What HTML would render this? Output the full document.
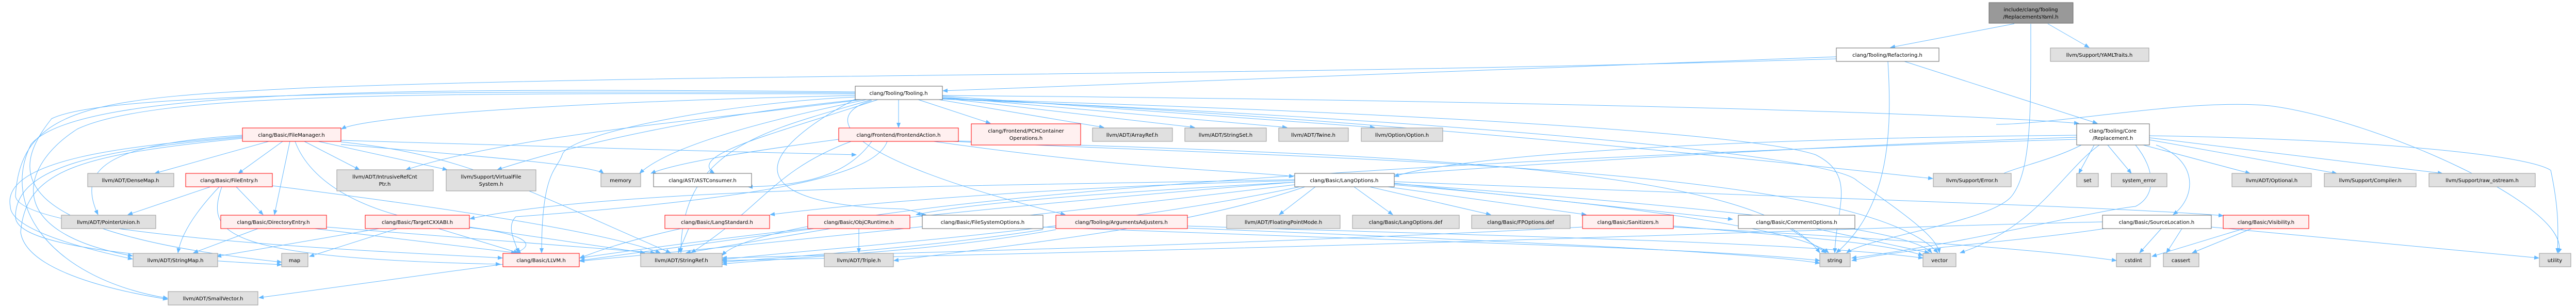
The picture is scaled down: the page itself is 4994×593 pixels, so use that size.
<!DOCTYPE html>
<html><head><meta charset="utf-8"><style>
html,body{margin:0;padding:0;background:#fff;}
svg{display:block;}
text{font-family:"DejaVu Sans","Liberation Sans",sans-serif;font-size:10px;fill:#000;text-anchor:middle;}
.e{fill:none;stroke:#63b8ff;stroke-width:1;marker-end:url(#a);}
.g{fill:#e0e0e0;stroke:#999;}
.w{fill:#fff;stroke:#666;}
.r{fill:#fff0f0;stroke:#f00;}
.m{fill:#999;stroke:#666;}
</style></head><body>
<svg width="4994" height="593" viewBox="0 0 4994 593" xmlns="http://www.w3.org/2000/svg">
<defs><marker id="a" markerWidth="10" markerHeight="8" refX="9" refY="4" orient="auto" markerUnits="userSpaceOnUse"><path d="M0,0 L10,4 L0,8 z" fill="#63b8ff"/></marker></defs>
<g>
<path class="e" d="M3905 46 L3665 92"/>
<path class="e" d="M3970 46 L4050 92"/>
<path class="e" d="M3937 46 C3937 200 3940 330 3900 380 C3860 430 3620 460 3580 490"/>
<path class="e" d="M3660 119 C3668 250 3665 400 3560 490"/>
<path class="e" d="M3692 119 L4066 239"/>
<path class="e" d="M3560 110 L1828 176"/>
<path class="e" d="M3560 114 C2400 150 1400 140 600 170 C200 190 40 200 30 380 C40 460 800 490 974 500"/>
<path class="e" d="M1742 193 L1742 247"/>
<path class="e" d="M1780 193 L1920 239"/>
<path class="e" d="M1820 193 L2140 247"/>
<path class="e" d="M1827 190 L2316 247"/>
<path class="e" d="M1827 188 L2495 247"/>
<path class="e" d="M1827 186 L2665 247"/>
<path class="e" d="M1827 185 C3000 195 3800 220 4030 239"/>
<path class="e" d="M1658 185 C1000 200 700 230 662 250"/>
<path class="e" d="M1658 188 C1400 200 1100 260 1090 300 C1080 330 1050 330 1050 490"/>
<path class="e" d="M1702 193 C1500 260 1330 300 1385 336"/>
<path class="e" d="M1680 193 C1500 230 1300 280 1240 336"/>
<path class="e" d="M1690 193 C1500 250 1320 280 1320 490"/>
<path class="e" d="M1670 193 C1400 230 1000 260 787 329"/>
<path class="e" d="M1665 193 C1300 230 1050 300 964 329"/>
<path class="e" d="M1690 195 C1600 220 1600 300 2065 416"/>
<path class="e" d="M1658 182 C800 180 300 180 150 250 C40 320 0 450 257 496"/>
<path class="e" d="M1658 180 C800 175 200 180 100 230 C20 330 0 450 546 508"/>
<path class="e" d="M1658 178 C800 170 150 170 60 280 C0 400 100 540 325 578"/>
<path class="e" d="M1827 191 C2800 220 3400 260 3520 300 C3600 340 3560 400 3557 490"/>
<path class="e" d="M1827 192 C2800 230 3550 300 3600 350 C3700 420 3755 460 3760 490"/>
<path class="e" d="M1827 190 C2700 230 3500 320 3747 346"/>
<path class="e" d="M3870 241 C4000 240 4250 190 4400 205 C4600 230 4990 400 4960 490"/>
<path class="e" d="M4026 262 C3200 270 2800 310 2703 342"/>
<path class="e" d="M4060 281 L4030 336"/>
<path class="e" d="M4086 281 L4132 336"/>
<path class="e" d="M4155 281 L4362 336"/>
<path class="e" d="M4167 271 L4530 336"/>
<path class="e" d="M4167 267 L4735 336"/>
<path class="e" d="M4167 263 C4600 270 4900 300 4945 330 C4960 400 4960 440 4958 490"/>
<path class="e" d="M4180 281 C4260 310 4260 380 4213 416"/>
<path class="e" d="M4140 281 C4180 330 4180 380 4140 400 C4050 410 3820 470 3590 500"/>
<path class="e" d="M4070 281 C4000 330 3950 440 3800 490"/>
<path class="e" d="M4035 281 C3960 320 3860 330 3850 362"/>
<path class="e" d="M4026 270 C3000 300 1500 380 1400 495"/>
<path class="e" d="M4026 266 C3000 300 1800 400 1124 500"/>
<path class="e" d="M521 274 L300 336"/>
<path class="e" d="M548 274 L462 336"/>
<path class="e" d="M562 274 L532 416"/>
<path class="e" d="M590 274 L697 329"/>
<path class="e" d="M617 274 L867 329"/>
<path class="e" d="M661 280 C900 300 1150 320 1170 336"/>
<path class="e" d="M470 262 C200 280 150 330 190 416"/>
<path class="e" d="M470 264 C300 280 0 300 20 400 C20 450 200 490 257 502"/>
<path class="e" d="M470 266 C200 290 30 320 30 420 C30 480 300 500 546 513"/>
<path class="e" d="M470 268 C150 300 50 330 40 450 C50 520 200 560 325 580"/>
<path class="e" d="M572 274 C600 350 700 420 900 440 C1000 450 1050 470 1000 490"/>
<path class="e" d="M661 275 C900 300 1000 360 1300 490"/>
<path class="e" d="M661 272 C1200 290 1300 290 1660 300"/>
<path class="e" d="M408 362 L248 416"/>
<path class="e" d="M458 362 L510 416"/>
<path class="e" d="M425 362 C370 420 350 460 345 490"/>
<path class="e" d="M430 362 C400 450 420 500 970 512"/>
<path class="e" d="M528 360 C1000 420 1200 460 1280 490"/>
<path class="e" d="M500 443 L375 490"/>
<path class="e" d="M610 443 L1000 490"/>
<path class="e" d="M633 440 L1270 490"/>
<path class="e" d="M735 443 L420 497"/>
<path class="e" d="M770 443 L600 497"/>
<path class="e" d="M850 443 L1005 490"/>
<path class="e" d="M910 440 L1250 490"/>
<path class="e" d="M975 512 L502 577"/>
<path class="e" d="M2550 362 L2480 416"/>
<path class="e" d="M2625 362 L2700 416"/>
<path class="e" d="M2655 362 L2890 416"/>
<path class="e" d="M2690 362 L3075 416"/>
<path class="e" d="M2703 355 L3359 425"/>
<path class="e" d="M2703 352 C3400 380 4100 400 4310 418"/>
<path class="e" d="M2510 350 C2100 360 1700 390 1493 416"/>
<path class="e" d="M2510 353 C2200 370 1900 390 1776 416"/>
<path class="e" d="M2510 348 C2000 360 1200 360 911 424"/>
<path class="e" d="M2703 358 C3200 400 3500 450 3545 490"/>
<path class="e" d="M2703 356 C3300 400 3700 440 3745 490"/>
<path class="e" d="M2530 362 C2300 440 2000 470 1733 505"/>
<path class="e" d="M2520 362 C2100 450 1600 480 1400 503"/>
<path class="e" d="M2510 358 C2000 420 1400 480 1124 506"/>
<path class="e" d="M1335 443 L1315 490"/>
<path class="e" d="M1320 443 C1200 470 1150 490 1124 500"/>
<path class="e" d="M1665 443 L1665 490"/>
<path class="e" d="M1610 443 L1330 490"/>
<path class="e" d="M1600 440 L1124 505"/>
<path class="e" d="M2022 440 C2800 470 3300 480 3528 505"/>
<path class="e" d="M2022 445 C1800 480 1500 500 1400 508"/>
<path class="e" d="M2302 438 C3000 460 3500 470 3728 500"/>
<path class="e" d="M2302 442 C3000 470 3400 490 3528 510"/>
<path class="e" d="M2047 445 C1800 490 1500 500 1400 512"/>
<path class="e" d="M3068 440 C2500 470 1800 490 1400 500"/>
<path class="e" d="M3244 438 C3500 460 3650 470 3728 495"/>
<path class="e" d="M3244 440 C3800 470 4000 490 4103 505"/>
<path class="e" d="M3470 443 L3540 490"/>
<path class="e" d="M3520 443 L3740 490"/>
<path class="e" d="M4230 443 L4200 490"/>
<path class="e" d="M4190 443 L4148 490"/>
<path class="e" d="M4287 440 L4922 500"/>
<path class="e" d="M4076 430 C3600 440 3000 470 1400 505"/>
<path class="e" d="M4080 443 C3900 470 3700 480 3590 505"/>
<path class="e" d="M4350 443 L4172 497"/>
<path class="e" d="M4365 443 L4250 490"/>
<path class="e" d="M1658 192 C1400 330 1500 400 1752 405 C1780 410 1790 416 1795 416"/>
<path class="e" d="M1690 274 C1650 330 1580 360 1450 362"/>
<path class="e" d="M1720 274 C1700 330 1550 380 1000 420 C980 440 1000 470 1005 490"/>
<path class="e" d="M1810 274 C2200 330 2400 330 2508 342"/>
<path class="e" d="M1826 272 C2600 300 3400 310 3528 490"/>
<path class="e" d="M1826 273 C2600 310 3600 320 3757 490"/>
<path class="e" d="M1626 270 C1400 300 1300 320 1262 336"/>
<path class="e" d="M1650 274 C1500 330 1480 400 1340 490"/>
</g>
<g>
<rect class="m" x="3856" y="5" width="163" height="40"/><text x="3937" y="22">include/clang/Tooling</text><text x="3937" y="36">/ReplacementsYaml.h</text>
<rect class="w" x="3560" y="93" width="199" height="26"/><text x="3659" y="110">clang/Tooling/Refactoring.h</text>
<rect class="g" x="3975" y="93" width="191" height="26"/><text x="4070" y="110">llvm/Support/YAMLTraits.h</text>
<rect class="w" x="1658" y="167" width="169" height="26"/><text x="1742" y="184">clang/Tooling/Tooling.h</text>
<rect class="w" x="4026" y="240" width="141" height="41"/><text x="4096" y="257">clang/Tooling/Core</text><text x="4096" y="271">/Replacement.h</text>
<rect class="r" x="470" y="248" width="191" height="26"/><text x="565" y="265">clang/Basic/FileManager.h</text>
<rect class="r" x="1626" y="248" width="232" height="26"/><text x="1742" y="265">clang/Frontend/FrontendAction.h</text>
<rect class="r" x="1883" y="240" width="212" height="41"/><text x="1989" y="257">clang/Frontend/PCHContainer</text><text x="1989" y="271">Operations.h</text>
<rect class="g" x="2118" y="248" width="155" height="26"/><text x="2195" y="265">llvm/ADT/ArrayRef.h</text>
<rect class="g" x="2297" y="248" width="158" height="26"/><text x="2376" y="265">llvm/ADT/StringSet.h</text>
<rect class="g" x="2479" y="248" width="135" height="26"/><text x="2546" y="265">llvm/ADT/Twine.h</text>
<rect class="g" x="2639" y="248" width="158" height="26"/><text x="2718" y="265">llvm/Option/Option.h</text>
<rect class="g" x="170" y="336" width="167" height="26"/><text x="253" y="353">llvm/ADT/DenseMap.h</text>
<rect class="r" x="360" y="336" width="168" height="26"/><text x="444" y="353">clang/Basic/FileEntry.h</text>
<rect class="g" x="653" y="329" width="187" height="41"/><text x="746" y="346">llvm/ADT/IntrusiveRefCnt</text><text x="746" y="360">Ptr.h</text>
<rect class="g" x="865" y="329" width="174" height="41"/><text x="952" y="346">llvm/Support/VirtualFile</text><text x="952" y="360">System.h</text>
<rect class="g" x="1165" y="336" width="77" height="26"/><text x="1203" y="353">memory</text>
<rect class="w" x="1267" y="336" width="190" height="26"/><text x="1362" y="353">clang/AST/ASTConsumer.h</text>
<rect class="w" x="2510" y="336" width="193" height="26"/><text x="2606" y="353">clang/Basic/LangOptions.h</text>
<rect class="g" x="3748" y="336" width="151" height="26"/><text x="3823" y="353">llvm/Support/Error.h</text>
<rect class="g" x="4026" y="336" width="42" height="26"/><text x="4047" y="353">set</text>
<rect class="g" x="4093" y="336" width="108" height="26"/><text x="4147" y="353">system_error</text>
<rect class="g" x="4327" y="336" width="154" height="26"/><text x="4404" y="353">llvm/ADT/Optional.h</text>
<rect class="g" x="4506" y="336" width="178" height="26"/><text x="4595" y="353">llvm/Support/Compiler.h</text>
<rect class="g" x="4709" y="336" width="206" height="26"/><text x="4812" y="353">llvm/Support/raw_ostream.h</text>
<rect class="g" x="119" y="417" width="183" height="26"/><text x="210" y="434">llvm/ADT/PointerUnion.h</text>
<rect class="r" x="428" y="417" width="205" height="26"/><text x="530" y="434">clang/Basic/DirectoryEntry.h</text>
<rect class="r" x="708" y="417" width="202" height="26"/><text x="809" y="434">clang/Basic/TargetCXXABI.h</text>
<rect class="r" x="1289" y="417" width="203" height="26"/><text x="1390" y="434">clang/Basic/LangStandard.h</text>
<rect class="r" x="1566" y="417" width="198" height="26"/><text x="1665" y="434">clang/Basic/ObjCRuntime.h</text>
<rect class="w" x="1788" y="417" width="234" height="26"/><text x="1905" y="434">clang/Basic/FileSystemOptions.h</text>
<rect class="r" x="2047" y="417" width="255" height="26"/><text x="2174" y="434">clang/Tooling/ArgumentsAdjusters.h</text>
<rect class="g" x="2378" y="417" width="220" height="26"/><text x="2488" y="434">llvm/ADT/FloatingPointMode.h</text>
<rect class="g" x="2622" y="417" width="207" height="26"/><text x="2725" y="434">clang/Basic/LangOptions.def</text>
<rect class="g" x="2853" y="417" width="191" height="26"/><text x="2948" y="434">clang/Basic/FPOptions.def</text>
<rect class="r" x="3068" y="417" width="176" height="26"/><text x="3156" y="434">clang/Basic/Sanitizers.h</text>
<rect class="w" x="3370" y="417" width="226" height="26"/><text x="3483" y="434">clang/Basic/CommentOptions.h</text>
<rect class="w" x="4076" y="417" width="211" height="26"/><text x="4181" y="434">clang/Basic/SourceLocation.h</text>
<rect class="r" x="4310" y="417" width="166" height="26"/><text x="4393" y="434">clang/Basic/Visibility.h</text>
<rect class="g" x="258" y="491" width="164" height="26"/><text x="340" y="508">llvm/ADT/StringMap.h</text>
<rect class="g" x="546" y="491" width="51" height="26"/><text x="571" y="508">map</text>
<rect class="r" x="975" y="491" width="148" height="26"/><text x="1049" y="508">clang/Basic/LLVM.h</text>
<rect class="g" x="1242" y="491" width="158" height="26"/><text x="1321" y="508">llvm/ADT/StringRef.h</text>
<rect class="g" x="1598" y="491" width="134" height="26"/><text x="1665" y="508">llvm/ADT/Triple.h</text>
<rect class="g" x="3528" y="491" width="59" height="26"/><text x="3557" y="508">string</text>
<rect class="g" x="3728" y="491" width="64" height="26"/><text x="3760" y="508">vector</text>
<rect class="g" x="4103" y="491" width="66" height="26"/><text x="4136" y="508">cstdint</text>
<rect class="g" x="4194" y="491" width="69" height="26"/><text x="4228" y="508">cassert</text>
<rect class="g" x="4923" y="491" width="61" height="26"/><text x="4953" y="508">utility</text>
<rect class="g" x="326" y="565" width="174" height="26"/><text x="413" y="582">llvm/ADT/SmallVector.h</text>
</g>
</svg>
</body></html>
